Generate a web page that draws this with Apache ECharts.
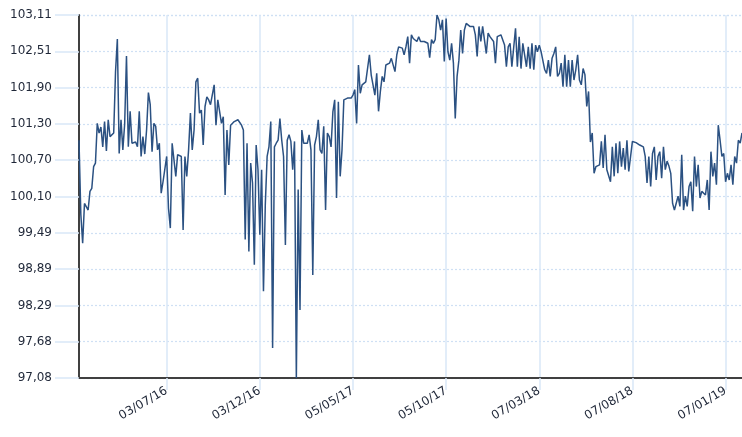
<!DOCTYPE html>
<html>
<head>
<meta charset="utf-8">
<script src="https://cdn.jsdelivr.net/npm/echarts@6/dist/echarts.min.js"></script>
<style>
html,body{margin:0;padding:0;background:#fff;}
#chart{width:742px;height:437px;}
</style>
</head>
<body>
<div id="chart"></div>
<script>
// First date of the series and spacing (days) between readings
const startDate = '2016-02-10';
const stepDays = 3;

// Tick labels shown on the date axis
const xTickLabels = ['03/07/16', '03/12/16', '05/05/17', '05/10/17', '07/03/18', '07/08/18', '07/01/19'];

// Tick labels on the value axis
const yTickLabels = ['97,08', '97,68', '98,29', '98,89', '99,49', '100,10', '100,70', '101,30', '101,90', '102,51', '103,11'];

// Series values (one every 3 days)
const values = [
  101.03, 99.80, 99.32, 99.98, 99.95, 99.87, 100.18, 100.23, 100.59, 100.65,
  101.31, 101.15, 101.25, 100.92, 101.34, 100.85, 101.37, 101.09, 101.12, 101.15,
  102.17, 102.71, 100.81, 101.37, 100.87, 101.30, 102.43, 100.92, 101.51, 100.98,
  100.95, 101.00, 100.92, 101.51, 100.76, 101.09, 100.80, 101.20, 101.82, 101.62,
  100.84, 101.31, 101.26, 100.87, 100.98, 100.15, 100.34, 100.32, 100.76, 99.90,
  99.57, 100.98, 100.98, 100.43, 100.79, 100.76, 100.76, 99.54, 100.76, 100.43,
  100.87, 101.48, 100.87, 101.20, 102.00, 102.06, 101.48, 101.53, 100.95, 101.59,
  101.75, 101.70, 101.62, 101.59, 101.95, 101.28, 101.70, 101.70, 101.31, 101.42,
  100.12, 101.20, 100.62, 101.28, 101.28, 101.34, 101.31, 101.37, 101.34, 101.28,
  101.20, 99.38, 100.98, 99.18, 100.65, 100.32, 98.96, 100.95, 100.54, 99.46,
  100.54, 98.52, 99.96, 100.76, 100.92, 101.34, 97.58, 100.92, 100.98, 101.03,
  101.39, 101.03, 100.76, 99.29, 101.03, 101.12, 101.01, 100.54, 101.01, 97.08,
  100.21, 98.21, 101.20, 100.98, 101.00, 100.98, 101.12, 100.87, 98.79, 100.95,
  101.09, 101.37, 100.87, 100.81, 101.26, 99.87, 101.15, 101.09, 100.92, 101.50,
  101.70, 100.07, 101.67, 100.43, 100.87, 101.70, 101.73, 101.73, 101.73, 101.73,
  101.78, 101.87, 101.31, 102.28, 101.81, 101.95, 101.95, 102.00, 102.03, 102.45,
  102.11, 102.14, 101.78, 102.14, 101.51, 101.84, 102.09, 102.00, 102.28, 102.31,
  102.31, 102.39, 102.36, 102.17, 102.45, 102.58, 102.61, 102.56, 102.45, 102.58,
  102.75, 102.31, 102.78, 102.72, 102.70, 102.67, 102.75, 102.67, 102.70, 102.67,
  102.67, 102.64, 102.40, 102.70, 102.64, 102.70, 103.11, 103.03, 102.86, 103.03,
  102.34, 103.05, 102.50, 102.36, 102.64, 102.31, 101.39, 102.09, 102.36, 102.86,
  102.47, 102.86, 102.97, 102.94, 102.92, 102.92, 102.92, 102.78, 102.42, 102.92,
  102.67, 102.92, 102.94, 102.47, 102.81, 102.75, 102.72, 102.67, 102.31, 102.75,
  102.75, 102.78, 102.75, 102.61, 102.25, 102.58, 102.64, 102.25, 102.25, 102.89,
  102.25, 102.75, 102.22, 102.64, 102.61, 102.25, 102.58, 102.22, 102.64, 102.20,
  102.61, 102.50, 102.61, 102.50, 102.47, 102.20, 102.14, 102.36, 102.09, 102.39,
  102.47, 102.58, 102.09, 102.14, 102.31, 101.92, 102.45, 101.92, 102.36, 101.92,
  102.36, 102.03, 102.20, 102.45, 102.03, 101.95, 102.22, 102.12, 101.59, 101.84,
  101.00, 101.15, 100.48, 100.59, 100.62, 100.62, 101.01, 100.57, 101.12, 100.54,
  100.54, 100.34, 100.92, 100.43, 100.98, 100.48, 101.01, 100.59, 100.90, 100.54,
  101.03, 100.51, 100.54, 101.01, 101.01, 100.99, 100.98, 100.95, 100.98, 100.92,
  100.76, 100.32, 100.76, 100.26, 100.81, 100.92, 100.37, 100.76, 100.84, 100.40,
  100.92, 100.54, 100.68, 100.60, 100.48, 99.98, 99.87, 99.85, 100.10, 99.93,
  100.79, 99.87, 100.10, 99.93, 100.26, 100.34, 99.85, 100.76, 100.26, 100.62,
  100.07, 100.18, 100.21, 100.12, 100.37, 99.87, 100.84, 100.43, 100.65, 100.29,
  101.28, 101.03, 100.76, 100.81, 100.34, 100.48, 100.37, 100.62, 100.29, 100.76,
  100.65, 101.03, 100.98, 101.15
];

function pad(n) { return (n < 10 ? '0' : '') + n; }
const t0 = Date.parse(startDate + 'T00:00:00Z');
const dates = values.map(function (_, i) {
  const d = new Date(t0 + i * stepDays * 86400000);
  return pad(d.getUTCDate()) + '/' + pad(d.getUTCMonth() + 1) + '/' + String(d.getUTCFullYear()).slice(2);
});

const yMin = parseFloat(yTickLabels[0].replace(',', '.'));
const yMax = parseFloat(yTickLabels[yTickLabels.length - 1].replace(',', '.'));
const yInterval = (yMax - yMin) / (yTickLabels.length - 1);

const isTick = function (index, value) { return xTickLabels.indexOf(value) >= 0; };
const gridBlue = '#d9e7f7';
const labelColor = '#1f2738';

const chart = echarts.init(document.getElementById('chart'));
chart.setOption({
  animation: false,
  backgroundColor: '#ffffff',
  grid: { left: 79, top: 15, right: 0, bottom: 59, containLabel: false },
  xAxis: {
    type: 'category',
    data: dates,
    boundaryGap: false,
    axisLine: { show: true, lineStyle: { color: '#404040', width: 2 } },
    axisTick: { show: true, interval: isTick, length: 12, lineStyle: { color: gridBlue, width: 1.5 } },
    splitLine: { show: true, interval: isTick, lineStyle: { color: gridBlue, width: 1.5 } },
    axisLabel: {
      interval: isTick,
      rotate: 30,
      margin: 12,
      color: labelColor,
      fontFamily: 'DejaVu Sans',
      fontSize: 12
    }
  },
  yAxis: {
    type: 'value',
    min: yMin,
    max: yMax,
    interval: yInterval,
    axisLine: { show: true, lineStyle: { color: '#404040', width: 2 } },
    axisTick: { show: true, length: 24, lineStyle: { color: gridBlue, width: 1.5 } },
    splitLine: { show: true, lineStyle: { color: '#cfe0f4', width: 1.2, type: [2, 2] } },
    axisLabel: {
      margin: 27,
      color: labelColor,
      fontFamily: 'DejaVu Sans',
      fontSize: 12,
      formatter: function (v) {
        const k = Math.round((v - yMin) / yInterval);
        return yTickLabels[k] !== undefined ? yTickLabels[k] : '';
      }
    }
  },
  series: [{
    type: 'line',
    data: values,
    showSymbol: false,
    symbol: 'none',
    lineStyle: { color: '#2b5182', width: 1.5 },
    itemStyle: { color: '#2b5182' }
  }]
});
</script>
</body>
</html>
